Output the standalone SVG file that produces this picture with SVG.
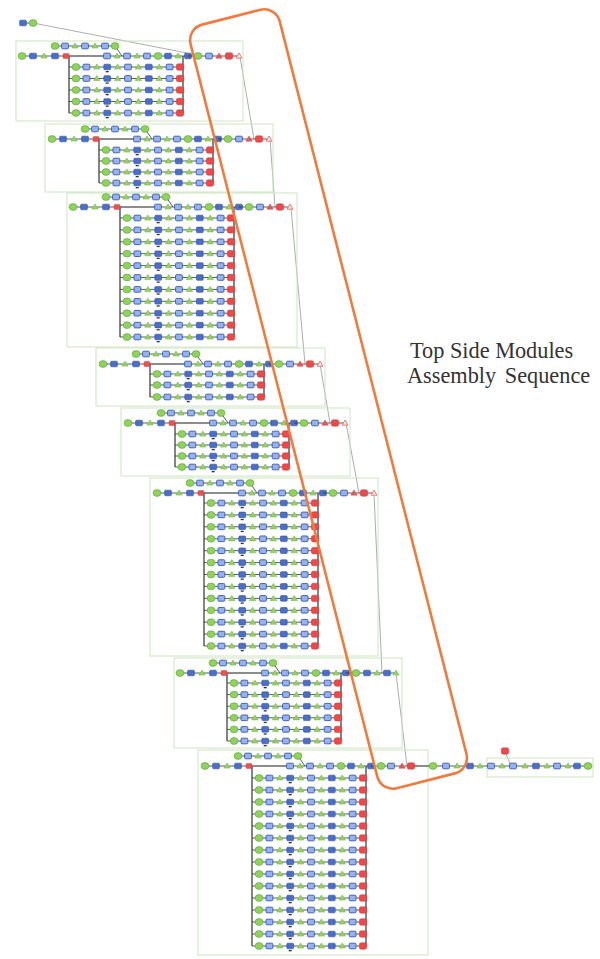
<svg xmlns="http://www.w3.org/2000/svg" width="600" height="959" viewBox="0 0 600 959">
<style>
.fr{fill:none;stroke:#cfe4c0;stroke-width:1}
.br{fill:none;stroke:#444;stroke-width:1.3}
.cn{fill:none;stroke:#8a8a8a;stroke-width:.7}
.ln{fill:none;stroke:#333;stroke-width:.8}
.lk{fill:none;stroke:#666;stroke-width:1.5}
.tx{font-family:"Liberation Serif","DejaVu Serif",serif;font-size:22.3px;fill:#333}
</style>
<defs>
<ellipse id="gc" rx="4" ry="3.4" fill="#8fd35b" stroke="#5aa636" stroke-width="0.6"/>
<path id="gs" d="M0,-3L3.2,2.1L-3.2,2.1Z" fill="#93d45e" stroke="#6ab33f" stroke-width="0.5"/>
<rect id="b1" x="-3.4" y="-2.8" width="6.8" height="5.6" rx="1" fill="#4a6fcb" stroke="#2e4fa3" stroke-width="0.6"/>
<rect id="b2" x="-3.4" y="-2.8" width="6.8" height="5.6" rx="1" fill="#98b2ea" stroke="#3d63c3" stroke-width="1"/>
<rect id="rs" x="-3.7" y="-3.2" width="7.4" height="6.4" rx="1.9" fill="#ee4848" stroke="#c93434" stroke-width="0.5"/>
<rect id="rm" x="-3" y="-2.5" width="6" height="5" rx="1" fill="#ee5050" stroke="#c93434" stroke-width="0.4"/>
<path id="rx" d="M0,-3L3.2,2.2L-3.2,2.2Z" fill="#e85a5a" stroke="#c03030" stroke-width="0.4"/>
<path id="rt" d="M0,-3L3,2.2L-3,2.2Z" fill="#fde0e0" stroke="#e05555" stroke-width="0.7"/>
<g id="sub">
<path class="ln" d="M-7,0H107"/>
<use href="#gc" x="0"/><use href="#b2" x="10.4"/><use href="#gs" x="20.8"/><use href="#b1" x="31.2"/><use href="#gs" x="41.6"/><use href="#b2" x="52"/><use href="#gs" x="62.4"/><use href="#b1" x="72.8"/><use href="#gs" x="83.2"/><use href="#b2" x="93.6"/><use href="#rs" x="104"/>
<rect x="29.7" y="4" width="3" height="1.3" fill="#333"/>
</g>
<g id="head">
<path class="ln" d="M0,0H44"/><path class="lk" d="M44,0H85"/><path class="ln" d="M85,0H166"/>
<path class="ln" d="M33,-10H93L100,0"/>
<use href="#gc" x="33" y="-10"/><use href="#b2" x="43" y="-10"/><use href="#gs" x="53" y="-10"/><use href="#b2" x="63" y="-10"/><use href="#gs" x="73" y="-10"/><use href="#b2" x="83" y="-10"/><use href="#gc" x="93" y="-10"/>
<use href="#gc" x="0"/><use href="#b1" x="11"/><use href="#gs" x="22"/><use href="#b1" x="33"/><use href="#rm" x="44"/>
<use href="#b2" x="85"/><use href="#gs" x="95"/><use href="#b2" x="105"/><use href="#gs" x="115"/><use href="#b2" x="125"/><use href="#gc" x="136"/><use href="#b1" x="146"/><use href="#gs" x="156"/><use href="#b1" x="166"/>
</g>
<g id="tr">
<path class="ln" d="M166,0H217"/>
<use href="#gc" x="176"/><use href="#b2" x="187"/><use href="#rx" x="197"/><use href="#rs" x="207"/><use href="#rt" x="217"/>
</g>
<g id="tg">
<path class="ln" d="M166,0H216"/>
<use href="#gc" x="176"/><use href="#b1" x="187"/><use href="#gs" x="197"/><use href="#b1" x="207"/><use href="#gs" x="216"/>
</g>
</defs>
<rect width="600" height="959" fill="#fff"/>

<g id="connectors">
<path class="ln" d="M23,23H33"/>
<path class="cn" d="M33,23L187,53"/>
<path class="cn" d="M240,57L254,139"/>
<path class="cn" d="M270,139L275,207"/>
<path class="cn" d="M291,208L305,364"/>
<path class="cn" d="M320,364L330,423"/>
<path class="cn" d="M346,423L359,493"/>
<path class="cn" d="M374,494L382,673"/>
<path class="cn" d="M396,673L407,766"/>
<path class="cn" d="M505,751L511,766"/>
</g>

<g id="start">
<use href="#b1" x="23" y="23"/><use href="#gc" x="33" y="23"/>
</g>

<g id="block1" transform="translate(22,56)">
<rect class="fr" x="-6" y="-15" width="227" height="80"/>
<path class="br" d="M47,0V57M161,0V57"/>
<use href="#head"/><use href="#tr"/>
<use href="#sub" x="54" y="11"/><use href="#sub" x="54" y="22.5"/><use href="#sub" x="54" y="34"/><use href="#sub" x="54" y="45.5"/><use href="#sub" x="54" y="57"/>
</g>

<g id="block2" transform="translate(52,139)">
<rect class="fr" x="-7" y="-15" width="228" height="68"/>
<path class="br" d="M47,0V44M161,0V44"/>
<use href="#head"/><use href="#tr"/>
<use href="#sub" x="54" y="11"/><use href="#sub" x="54" y="22"/><use href="#sub" x="54" y="33"/><use href="#sub" x="54" y="44"/>
</g>

<g id="block3" transform="translate(73,207)">
<rect class="fr" x="-6" y="-14" width="230" height="154"/>
<path class="br" d="M47,0V130M161,0V130"/>
<use href="#head"/><use href="#tr"/>
<use href="#sub" x="54" y="11"/><use href="#sub" x="54" y="22.9"/><use href="#sub" x="54" y="34.8"/><use href="#sub" x="54" y="46.7"/><use href="#sub" x="54" y="58.6"/><use href="#sub" x="54" y="70.5"/><use href="#sub" x="54" y="82.4"/><use href="#sub" x="54" y="94.3"/><use href="#sub" x="54" y="106.2"/><use href="#sub" x="54" y="118.1"/><use href="#sub" x="54" y="130"/>
</g>

<g id="block4" transform="translate(103,364)">
<rect class="fr" x="-7" y="-16" width="229" height="58"/>
<path class="br" d="M47,0V33M161,0V33"/>
<use href="#head"/><use href="#tr"/>
<use href="#sub" x="54" y="10"/><use href="#sub" x="54" y="21"/><use href="#sub" x="54" y="33"/>
</g>

<g id="block5" transform="translate(128,423)">
<rect class="fr" x="-7" y="-15" width="229" height="68"/>
<path class="br" d="M47,0V44M161,0V44"/>
<use href="#head"/><use href="#tr"/>
<use href="#sub" x="54" y="11"/><use href="#sub" x="54" y="22"/><use href="#sub" x="54" y="33"/><use href="#sub" x="54" y="44"/>
</g>

<g id="block6" transform="translate(157,493)">
<rect class="fr" x="-7" y="-15" width="228" height="178"/>
<path class="br" d="M47,0V153M161,0V153"/>
<use href="#head"/><use href="#tr"/>
<use href="#sub" x="54" y="10"/><use href="#sub" x="54" y="21.9"/><use href="#sub" x="54" y="33.8"/><use href="#sub" x="54" y="45.8"/><use href="#sub" x="54" y="57.7"/><use href="#sub" x="54" y="69.6"/><use href="#sub" x="54" y="81.5"/><use href="#sub" x="54" y="93.4"/><use href="#sub" x="54" y="105.4"/><use href="#sub" x="54" y="117.3"/><use href="#sub" x="54" y="129.2"/><use href="#sub" x="54" y="141.1"/><use href="#sub" x="54" y="153"/>
</g>

<g id="block7" transform="translate(180,673)">
<rect class="fr" x="-6" y="-15" width="228" height="90"/>
<path class="br" d="M47,0V68M161,0V68"/>
<use href="#head"/><use href="#tg"/>
<use href="#sub" x="54" y="10"/><use href="#sub" x="54" y="21.6"/><use href="#sub" x="54" y="33.2"/><use href="#sub" x="54" y="44.8"/><use href="#sub" x="54" y="56.4"/><use href="#sub" x="54" y="68"/>
</g>

<g id="block8" transform="translate(205,766)">
<rect class="fr" x="-7" y="-16" width="230" height="205"/>
<path class="br" d="M47,0V180M161,0V180"/>
<use href="#head"/>
<path class="ln" d="M166,0H206"/><path class="lk" d="M206,0H228"/>
<use href="#gc" x="176"/><use href="#b2" x="186"/><use href="#rx" x="197"/><use href="#rs" x="206"/>
<use href="#sub" x="54" y="12"/><use href="#sub" x="54" y="24"/><use href="#sub" x="54" y="36"/><use href="#sub" x="54" y="48"/><use href="#sub" x="54" y="60"/><use href="#sub" x="54" y="72"/><use href="#sub" x="54" y="84"/><use href="#sub" x="54" y="96"/><use href="#sub" x="54" y="108"/><use href="#sub" x="54" y="120"/><use href="#sub" x="54" y="132"/><use href="#sub" x="54" y="144"/><use href="#sub" x="54" y="156"/><use href="#sub" x="54" y="168"/><use href="#sub" x="54" y="180"/>
</g>

<g id="block9">
<rect class="fr" x="487" y="758" width="106" height="19"/>
<path class="ln" d="M433,766H588"/>
<use href="#gc" x="433" y="766"/><use href="#b2" x="446" y="766"/><use href="#gs" x="457" y="766"/><use href="#b1" x="470" y="766"/><use href="#gs" x="480" y="766"/><use href="#b2" x="491" y="766"/><use href="#gs" x="502" y="766"/><use href="#b2" x="513" y="766"/><use href="#gs" x="525" y="766"/><use href="#b1" x="536" y="766"/><use href="#gs" x="547" y="766"/><use href="#b2" x="557" y="766"/><use href="#gs" x="568" y="766"/><use href="#b1" x="577" y="766"/><use href="#gc" x="588" y="766"/>
<use href="#rs" x="505" y="751"/>
</g>

<rect id="highlight" x="-46" y="-394" width="92" height="788" rx="16" transform="translate(328.5,399) rotate(-14.3)" fill="none" stroke="#f07b3f" stroke-width="2.6"/>

<g id="label">
<text class="tx" x="410" y="358">Top Side Modules</text>
<text class="tx" x="407" y="383" word-spacing="3">Assembly Sequence</text>
</g>
</svg>
